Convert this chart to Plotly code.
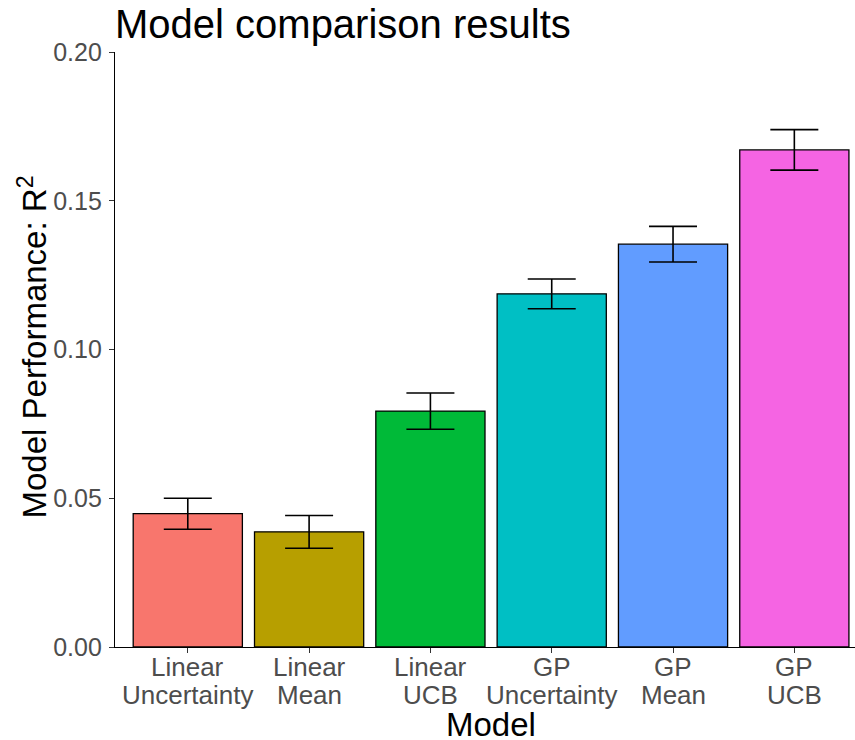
import plotly.graph_objects as go

models_line1 = ["Linear", "Linear", "Linear", "GP", "GP", "GP"]
models_line2 = ["Uncertainty", "Mean", "UCB", "Uncertainty", "Mean", "UCB"]
r2_mean = [0.0448, 0.0387, 0.0793, 0.1187, 0.1354, 0.1671]
r2_se = [0.0052, 0.0055, 0.0061, 0.0050, 0.0060, 0.0068]
colors = ["#F8766D", "#B79F00", "#00BA38", "#00BFC4", "#619CFF", "#F564E3"]
y_ticks = [0.00, 0.05, 0.10, 0.15, 0.20]
y_ticklabels = ["0.00", "0.05", "0.10", "0.15", "0.20"]

FONT = "Liberation Sans, Arial, Helvetica, sans-serif"
idx = list(range(len(r2_mean)))

fig = go.Figure()
fig.add_trace(go.Bar(
    x=idx, y=r2_mean, width=0.9,
    marker=dict(color=colors, line=dict(color="black", width=1.3)),
    error_y=dict(type="data", array=r2_se, visible=True,
                 color="black", thickness=1.6, width=24),
    showlegend=False,
))

annotations = []
for i, (l1, l2) in enumerate(zip(models_line1, models_line2)):
    annotations.append(dict(x=i, y=0, xref="x", yref="paper", text=l1,
                            showarrow=False, xanchor="center", yanchor="middle",
                            yshift=-19.5, font=dict(family=FONT, size=26, color="#4D4D4D")))
    annotations.append(dict(x=i, y=0, xref="x", yref="paper", text=l2,
                            showarrow=False, xanchor="center", yanchor="middle",
                            yshift=-47.7, font=dict(family=FONT, size=26, color="#4D4D4D")))

annotations.append(dict(x=2.5, y=0, xref="x", yref="paper", text="Model",
                        showarrow=False, xanchor="center", yanchor="middle",
                        yshift=-77, font=dict(family=FONT, size=33, color="black")))
annotations.append(dict(x=0, y=0.5, xref="paper", yref="paper",
                        text="Model Performance: R<sup>2</sup>", textangle=-90,
                        showarrow=False, xanchor="center", yanchor="middle",
                        xshift=-83, yshift=2, font=dict(family=FONT, size=33, color="black")))
annotations.append(dict(x=0, y=1, xref="paper", yref="paper",
                        text="Model comparison results",
                        showarrow=False, xanchor="left", yanchor="middle",
                        xshift=-2, yshift=28.5, font=dict(family=FONT, size=40, color="black")))

fig.update_layout(
    width=855, height=740,
    margin=dict(l=115, r=0, t=52, b=93, pad=0),
    plot_bgcolor="white", paper_bgcolor="white",
    font=dict(family=FONT),
    annotations=annotations,
    xaxis=dict(range=[-0.6, 5.5], showgrid=False, zeroline=False,
               showline=True, linecolor="black", linewidth=1.2,
               ticks="outside", ticklen=5, tickcolor="#333333", tickwidth=1.1,
               tickvals=idx, showticklabels=False),
    yaxis=dict(range=[0, 0.2], showgrid=False, zeroline=False,
               showline=True, linecolor="black", linewidth=1.2,
               ticks="outside", ticklen=5, tickcolor="#333333", tickwidth=1.1,
               tickvals=y_ticks, ticktext=y_ticklabels, ticklabelstandoff=2,
               tickfont=dict(family=FONT, size=25, color="#4D4D4D")),
)

fig.write_html("out.html", config={"displayModeBar": False},
               post_script="document.body.style.margin='0';document.body.style.padding='0';")
